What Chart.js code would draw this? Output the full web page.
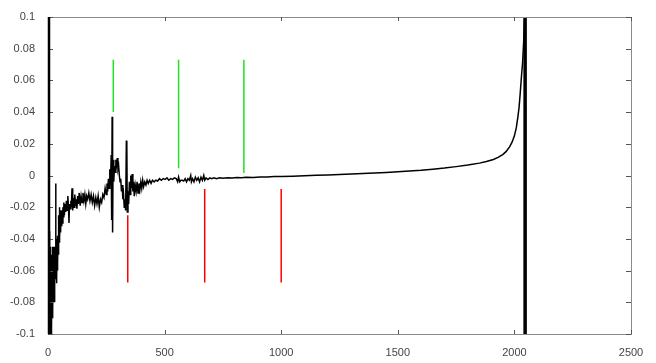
<!DOCTYPE html>
<html>
<head>
<meta charset="utf-8">
<script src="https://cdn.jsdelivr.net/npm/chart.js@4.4.1/dist/chart.umd.min.js"></script>
<style>
  html, body { margin: 0; padding: 0; background: #fff; }
  #wrap { width: 656px; height: 363px; }
</style>
</head>
<body>
<div id="wrap"><canvas id="chart"></canvas></div>
<script>
// axis ticks
const xTicks = [0, 500, 1000, 1500, 2000, 2500]
const xTickLabels = ["0", "500", "1000", "1500", "2000", "2500"]
const yTicks = [-0.1, -0.08, -0.06, -0.04, -0.02, 0, 0.02, 0.04, 0.06, 0.08, 0.1]
const yTickLabels = ["-0.1", "-0.08", "-0.06", "-0.04", "-0.02", "0", "0.02", "0.04", "0.06", "0.08", "0.1"]

// main trace (sample index, value)
const traceX = [
  0, 0.5, 1, 1.5, 2, 2.5, 3, 3.5, 4, 4.5, 5, 5.5, 6, 6.5, 7, 7.5, 8, 8.5, 9, 9.5, 10, 10.5, 11, 11.5, 12,
  12.5, 13, 13.5, 14, 14.5, 15, 16, 17, 18, 19, 20, 21, 22, 23, 24, 25, 26, 27, 28, 29, 30, 31,
  33, 34, 35, 36, 37, 38, 39, 40, 41, 42, 43, 44, 45, 46, 47, 48, 49, 50, 52, 54, 56, 58, 60, 62, 64, 66, 68, 70, 73, 76,
  79, 82, 85, 88, 90, 92, 95, 98, 100, 103, 106, 109, 112, 115, 118, 121, 124, 127, 130, 134, 138, 142,
  146, 150, 154, 158, 162, 166, 170, 175, 180, 185, 190, 195, 200, 205, 210, 215, 220, 225, 230, 235, 240,
  245, 250, 253, 256, 259, 262, 265, 268, 271, 273, 275, 277, 279, 282, 285, 288, 291, 294, 297, 300, 303,
  306, 309, 312, 315, 318, 321, 324, 327, 330, 333, 336, 338, 340, 343, 346, 349, 352, 355, 358, 361, 364,
  367, 370, 374, 378, 382, 386, 390, 394, 398, 402, 406, 410, 415, 420, 425, 430, 436, 442, 448, 455, 462,
  470, 478, 486, 494, 502, 510, 518, 526, 534, 542, 550, 556, 560, 565, 570, 576, 582, 588, 594, 600, 606,
  612, 615, 620, 626, 632, 638, 644, 650, 656, 662, 668, 672, 678, 686, 694, 702, 712, 722, 735, 750, 770,
  790, 810, 830, 850, 880, 910, 940, 970, 1000, 1050, 1100, 1150, 1200, 1250, 1300, 1350, 1400, 1450,
  1500, 1550, 1600, 1650, 1700, 1750, 1800, 1850, 1880, 1910, 1930, 1950, 1965, 1980, 1990, 2000, 2008,
  2015, 2020, 2025, 2030, 2035, 2040, 2043
]
const traceY = [
  -0.1, -0.035, -0.1, -0.045, -0.1, -0.04, -0.1, -0.05, -0.1, -0.035, -0.1, -0.055, -0.1, -0.04, -0.1,
  -0.05, -0.1, -0.045, -0.095, -0.05, -0.1, -0.055, -0.09, -0.045, -0.1, -0.06, -0.095, -0.05, -0.1,
  -0.055, -0.09, -0.05, -0.095, -0.06, -0.09, -0.045, -0.085, -0.05, -0.08, -0.055, -0.075, -0.045,
  -0.08, -0.05, -0.07, -0.055, -0.065,
  -0.005, -0.065, -0.04, -0.068, -0.045, -0.065, -0.04, -0.06, -0.038, -0.055, -0.04, -0.05, -0.03,
  -0.048, -0.025, -0.042, -0.02, -0.04, -0.028, -0.036, -0.022, -0.032, -0.024, -0.03, -0.02, -0.026,
  -0.017, -0.025, -0.018, -0.023,
  -0.016, -0.022, -0.013, -0.02, -0.03, -0.018, -0.021, -0.016, -0.02, -0.008, -0.022, -0.014, -0.02,
  -0.012, -0.019, -0.015, -0.021, -0.013, -0.018, -0.011, -0.019, -0.013, -0.017, -0.011, -0.016, -0.012,
  -0.018, -0.013, -0.015, -0.011, -0.016, -0.012, -0.017, -0.013, -0.019, -0.014, -0.018, -0.013, -0.02,
  -0.015, -0.017, -0.012, -0.014, -0.008, -0.012, -0.005, -0.01, -0.002, -0.008, 0.004, -0.006, 0.013,
  -0.028, 0.037, -0.036, 0.01, -0.004, 0.006, 0.002, 0.01, 0.007, 0.011, 0.004, 0.006, 0.0, -0.004, -0.002,
  -0.01, -0.006, -0.015, -0.012, -0.02, -0.015, -0.022, 0.022, 0.02, -0.023, -0.01, -0.018, -0.004, -0.012,
  0.0, -0.008, 0.001, -0.01, -0.004, -0.013, -0.006, -0.01, -0.004, -0.011, -0.005, -0.009, -0.004, -0.008,
  -0.003, -0.007, -0.004, -0.006, -0.003, -0.005, -0.003, -0.005, -0.003, -0.004, -0.003, -0.0035, -0.002,
  -0.003, -0.002, -0.0025, -0.0015, -0.003, -0.002, -0.0025, -0.0015, -0.002, -0.004, -0.001, -0.004,
  -0.003, -0.003, -0.0035, -0.002, -0.004, -0.002, -0.003, 0.0, -0.004, -0.002, -0.004, -0.001, -0.003,
  -0.0015, -0.004, -0.001, -0.003, 0.0, -0.003, -0.0015, -0.0025, -0.0015, -0.002, -0.0015, -0.002,
  -0.0015, -0.0018, -0.0014, -0.0016, -0.0012, -0.0014, -0.0011, -0.0012, -0.0009, -0.001, -0.0007,
  -0.0006, -0.0004, -0.0001, 0.0001, 0.0003, 0.0006, 0.001, 0.0012, 0.0015, 0.0019, 0.0023, 0.0028,
  0.0033, 0.004, 0.0047, 0.0056, 0.0066, 0.0078, 0.0088, 0.0101, 0.0114, 0.0132, 0.0152, 0.0182, 0.021,
  0.025, 0.03, 0.037, 0.043, 0.052, 0.062, 0.071, 0.085, 0.1
]

// the solid band at the end of the record
const edgeX = 2046
const edgeRange = [-0.1, 0.1]

// marker lines: position and vertical extent
const greenX = [280, 560, 840]
const greenTop = [0.073, 0.073, 0.073]
const greenBottom = [0.040, 0.0045, 0.0015]
const redX = [342, 672, 1000]
const redTop = [-0.025, -0.0085, -0.0085]
const redBottom = [-0.0675, -0.0675, -0.0675]

function segments(xs, tops, bottoms) {
  const pts = []
  xs.forEach((x, i) => {
    pts.push({ x: x, y: tops[i] }, { x: x, y: bottoms[i] }, { x: x, y: null })
  })
  return pts
}

const trace = traceX.map((x, i) => ({ x: x, y: traceY[i] }))

// frame on all four sides plus inward ticks (matlab look)
const framePlugin = {
  id: "frame",
  afterDatasetsDraw(chart) {
    const { ctx, chartArea: a, scales } = chart
    ctx.save()
    ctx.strokeStyle = "#8a8a8a"
    ctx.lineWidth = 1
    ctx.strokeRect(a.left + 0.5, a.top + 0.5, a.right - a.left, a.bottom - a.top)
    ctx.strokeStyle = "#555"
    ctx.beginPath()
    xTicks.forEach(v => {
      const px = Math.round(scales.x.getPixelForValue(v)) + 0.5
      ctx.moveTo(px, a.bottom); ctx.lineTo(px, a.bottom - 4)
      ctx.moveTo(px, a.top); ctx.lineTo(px, a.top + 4)
    })
    yTicks.forEach(v => {
      const py = Math.round(scales.y.getPixelForValue(v)) + 0.5
      ctx.moveTo(a.left, py); ctx.lineTo(a.left + 5, py)
      ctx.moveTo(a.right, py); ctx.lineTo(a.right - 5, py)
    })
    ctx.stroke()
    // heavy left edge
    ctx.strokeStyle = "#000"
    ctx.lineWidth = 2.5
    ctx.beginPath()
    ctx.moveTo(a.left + 1, a.top); ctx.lineTo(a.left + 1, a.bottom)
    ctx.stroke()
    ctx.restore()
  }
}

const tickFont = { family: "'Liberation Sans', Arial, sans-serif", size: 11 }

new Chart(document.getElementById("chart"), {
  type: "scatter",
  data: {
    datasets: [
      {
        data: trace,
        showLine: true,
        borderColor: "#000",
        borderWidth: 1.5,
        pointRadius: 0,
        tension: 0
      },
      {
        data: [{ x: edgeX, y: edgeRange[0] }, { x: edgeX, y: edgeRange[1] }],
        showLine: true,
        borderColor: "#000",
        borderWidth: 3.5,
        pointRadius: 0
      },
      {
        data: segments(greenX, greenTop, greenBottom),
        showLine: true,
        spanGaps: false,
        borderColor: "#22e022",
        borderWidth: 1.5,
        pointRadius: 0
      },
      {
        data: segments(redX, redTop, redBottom),
        showLine: true,
        spanGaps: false,
        borderColor: "#ff0000",
        borderWidth: 1.5,
        pointRadius: 0
      }
    ]
  },
  options: {
    responsive: true,
    maintainAspectRatio: false,
    animation: false,
    layout: { padding: { top: 17, right: 25, left: 0, bottom: 0 } },
    plugins: {
      legend: { display: false },
      tooltip: { enabled: false }
    },
    scales: {
      x: {
        type: "linear",
        min: 0,
        max: 2500,
        afterBuildTicks: s => { s.ticks = xTicks.map(v => ({ value: v })) },
        afterFit: s => { s.height = 29 },
        grid: { display: false },
        border: { display: false },
        ticks: {
          color: "#444",
          font: tickFont,
          padding: 4,
          maxRotation: 0,
          callback: (v, i) => xTickLabels[i]
        }
      },
      y: {
        min: -0.1,
        max: 0.1,
        afterBuildTicks: s => { s.ticks = yTicks.map(v => ({ value: v })) },
        afterFit: s => { s.width = 48 },
        grid: { display: false },
        border: { display: false },
        ticks: {
          color: "#444",
          font: tickFont,
          padding: 5,
          callback: (v, i) => yTickLabels[i]
        }
      }
    }
  },
  plugins: [framePlugin]
})
</script>
</body>
</html>
